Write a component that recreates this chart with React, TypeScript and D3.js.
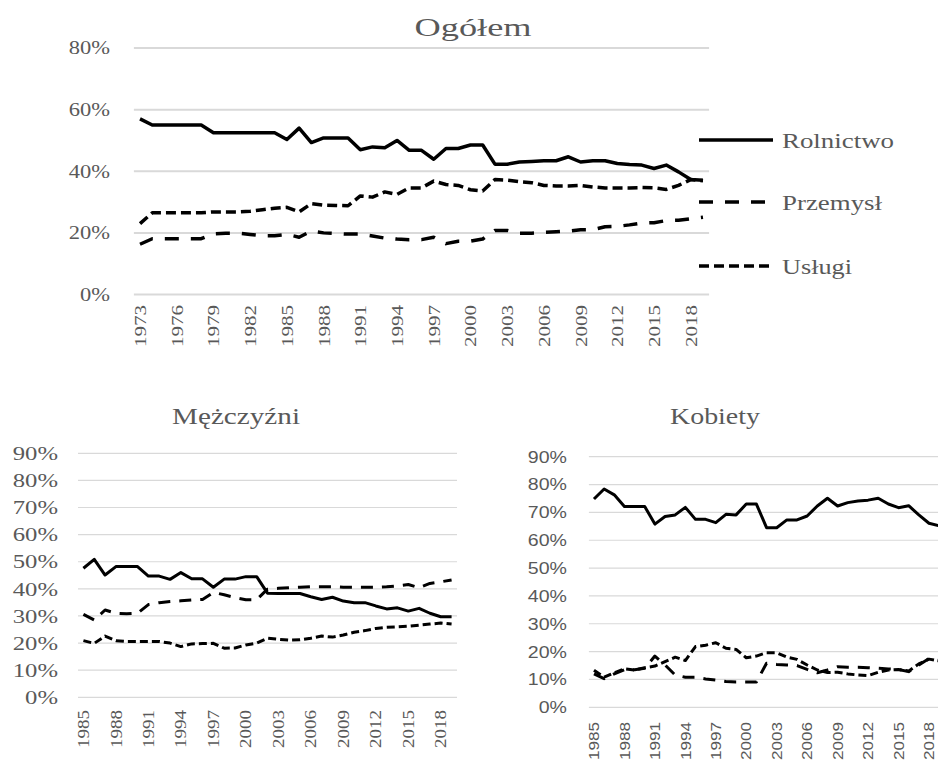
import React from 'react';
import * as d3 from 'd3';

// ---------- DATA ----------
const yearsTop = [1973,1974,1975,1976,1977,1978,1979,1980,1981,1982,1983,1984,1985,1986,1987,1988,1989,1990,1991,1992,1993,1994,1995,1996,1997,1998,1999,2000,2001,2002,2003,2004,2005,2006,2007,2008,2009,2010,2011,2012,2013,2014,2015,2016,2017,2018,2019];
const topRolnictwo = [57.0,55.0,55.0,55.0,55.0,55.0,52.5,52.5,52.5,52.5,52.5,52.5,50.3,54.0,49.3,50.8,50.8,50.8,47.0,47.9,47.6,50.0,46.8,46.8,43.9,47.4,47.4,48.5,48.5,42.3,42.3,43.0,43.2,43.4,43.4,44.7,43.0,43.4,43.4,42.5,42.2,42.0,40.9,42.0,39.8,37.3,37.1];
const topPrzemysl = [16.3,18.1,18.1,18.1,18.1,18.1,19.7,19.9,19.9,19.5,19.1,19.1,19.5,18.6,20.6,20.0,19.8,19.6,19.6,19.0,18.3,18.0,17.8,17.8,18.6,16.5,17.3,17.3,18.0,20.8,20.8,19.9,19.9,20.2,20.4,20.6,21.0,21.0,22.0,22.1,22.6,23.2,23.3,24.0,24.1,24.6,25.1];
const topUslugi = [23.0,26.5,26.5,26.5,26.5,26.5,26.8,26.8,26.8,27.0,27.5,28.0,28.3,26.8,29.5,29.0,28.9,28.8,32.0,31.6,33.3,32.5,34.6,34.6,36.8,35.7,35.4,34.0,33.6,37.3,37.1,36.6,36.3,35.4,35.2,35.2,35.4,34.9,34.6,34.6,34.6,34.7,34.6,34.1,35.4,37.3,36.9];

const yearsBottom = [1985,1986,1987,1988,1989,1990,1991,1992,1993,1994,1995,1996,1997,1998,1999,2000,2001,2002,2003,2004,2005,2006,2007,2008,2009,2010,2011,2012,2013,2014,2015,2016,2017,2018,2019];
const menRolnictwo = [47.6,50.9,45.1,48.2,48.2,48.2,44.7,44.7,43.5,46.0,43.7,43.7,40.6,43.6,43.6,44.5,44.5,38.4,38.3,38.3,38.3,37.1,36.1,36.9,35.5,34.9,34.9,33.7,32.6,33.0,31.8,32.8,31.0,29.7,29.7];
const menPrzemysl = [30.6,28.5,32.2,31.0,30.8,31.0,34.2,34.9,35.3,35.6,35.9,36.1,38.7,37.8,36.8,36.0,36.0,39.9,40.2,40.4,40.6,40.8,40.8,40.8,40.6,40.6,40.6,40.6,40.8,41.1,41.6,40.4,42.0,42.6,43.3];
const menUslugi = [20.9,19.9,22.6,20.9,20.6,20.6,20.6,20.6,20.0,18.7,19.7,19.8,19.9,18.1,18.2,19.3,20.0,21.8,21.4,21.1,21.2,21.8,22.6,22.2,23.0,24.0,24.6,25.4,25.8,26.0,26.2,26.6,27.0,27.4,27.0];
const womenRolnictwo = [74.8,78.4,76.3,72.1,72.1,72.1,65.8,68.5,69.1,71.8,67.5,67.5,66.3,69.3,69.1,73.0,73.0,64.5,64.5,67.3,67.3,68.7,72.3,75.1,72.3,73.5,74.1,74.4,75.1,73.0,71.7,72.4,69.1,66.1,65.2];
const womenPrzemysl = [12.0,10.3,12.0,13.5,13.5,14.0,18.4,15.2,11.6,10.8,10.8,10.2,9.8,9.3,9.1,9.1,9.1,15.8,15.4,15.2,15.0,13.6,12.4,13.4,14.6,14.4,14.4,14.2,14.0,13.8,13.6,12.8,15.2,17.5,16.8];
const womenUslugi = [13.3,10.8,12.4,13.8,13.4,14.2,14.8,16.4,18.0,16.8,21.8,22.3,23.2,21.2,20.8,17.8,18.4,19.6,19.6,18.0,17.2,15.2,13.4,12.5,12.6,12.0,11.6,11.4,12.6,13.4,13.6,13.0,15.6,17.3,16.6];

const topTicks = [0, 20, 40, 60, 80];
const bottomTicks = [0, 10, 20, 30, 40, 50, 60, 70, 80, 90];
const topYearLabels = [1973,1976,1979,1982,1985,1988,1991,1994,1997,2000,2003,2006,2009,2012,2015,2018];
const bottomYearLabels = [1985,1988,1991,1994,1997,2000,2003,2006,2009,2012,2015,2018];
const seriesNames = ['Rolnictwo', 'Przemysł', 'Usługi'];
const titles = ['Ogółem', 'Mężczyźni', 'Kobiety'];

const GRID = '#d9d9d9';
const TXT = '#595959';
const SERIF = '"Liberation Serif", "Times New Roman", serif';
const SANS = '"Liberation Sans", Arial, sans-serif';

type Panel = {
  years: number[];
  series: number[][];
  xRange: [number, number];
  yRange: [number, number];
  yMax: number;
  ticks: number[];
  yearLabels: number[];
  labelRight: number;
  labelFont: string;
  labelSize: number;
  labelK: number;
  xLabelTop: number;
  xLabelLen: number;
  xLabelSize: number;
  gridW: number;
  lineW: number;
  dashes: string[];
};

function pctWidth(v: number, fs: number, sans: boolean) {
  const digits = String(v).length;
  const dw = sans ? 0.556 : 0.5;
  const pw = sans ? 0.889 : 0.833;
  return (digits * dw + pw) * fs;
}

function PanelChart({ p }: { p: Panel }) {
  const x = d3.scaleBand<number>().domain(p.years).range(p.xRange).padding(0);
  const cx = (yr: number) => (x(yr) as number) + x.bandwidth() / 2;
  const y = d3.scaleLinear().domain([0, p.yMax]).range(p.yRange);
  const sans = p.labelFont === SANS;
  const line = d3.line<number>().x((_, i) => cx(p.years[i])).y((d) => y(d));
  return (
    <g>
      {p.ticks.map((t) => (
        <g key={t}>
          <line x1={p.xRange[0]} x2={p.xRange[1]} y1={y(t)} y2={y(t)} stroke={GRID} strokeWidth={p.gridW} />
          <text
            x={p.labelRight}
            y={y(t)}
            dy="0.35em"
            textAnchor="end"
            fontFamily={p.labelFont}
            fontSize={p.labelSize}
            fill={TXT}
            textLength={pctWidth(t, p.labelSize, sans) * p.labelK}
            lengthAdjust="spacingAndGlyphs"
          >{t}%</text>
        </g>
      ))}
      {p.yearLabels.map((yr) => (
        <text
          key={yr}
          transform={`translate(${cx(yr) + p.xLabelSize * 0.35},${p.xLabelTop}) rotate(-90)`}
          textAnchor="end"
          fontFamily={p.labelFont}
          fontSize={p.xLabelSize}
          fill={TXT}
          textLength={p.xLabelLen}
          lengthAdjust="spacingAndGlyphs"
        >{yr}</text>
      ))}
      {p.series.map((s, i) => (
        <path
          key={i}
          d={line(s) as string}
          fill="none"
          stroke="#000"
          strokeWidth={p.lineW}
          strokeDasharray={p.dashes[i]}
          strokeLinejoin="round"
        />
      ))}
    </g>
  );
}

export default function App() {
  const topPanel: Panel = {
    years: yearsTop,
    series: [topRolnictwo, topPrzemysl, topUslugi],
    xRange: [133.9, 709.1],
    yRange: [294.5, 48],
    yMax: 80,
    ticks: topTicks,
    yearLabels: topYearLabels,
    labelRight: 110,
    labelFont: SERIF,
    labelSize: 18,
    labelK: 1.25,
    xLabelTop: 305,
    xLabelLen: 42,
    xLabelSize: 17,
    gridW: 2,
    lineW: 3.5,
    dashes: ['none', '14,12', '10,5'],
  };
  const menPanel: Panel = {
    years: yearsBottom,
    series: [menRolnictwo, menPrzemysl, menUslugi],
    xRange: [78, 457],
    yRange: [697.3, 453.3],
    yMax: 90,
    ticks: bottomTicks,
    yearLabels: bottomYearLabels,
    labelRight: 58,
    labelFont: SERIF,
    labelSize: 19,
    labelK: 1.3,
    xLabelTop: 710,
    xLabelLen: 38,
    xLabelSize: 16,
    gridW: 1.2,
    lineW: 3,
    dashes: ['none', '12,9', '8,4'],
  };
  const womenPanel: Panel = {
    years: yearsBottom,
    series: [womenRolnictwo, womenPrzemysl, womenUslugi],
    xRange: [588.9, 944.2],
    yRange: [707.3, 456.7],
    yMax: 90,
    ticks: bottomTicks,
    yearLabels: bottomYearLabels,
    labelRight: 567,
    labelFont: SANS,
    labelSize: 17,
    labelK: 1.15,
    xLabelTop: 722,
    xLabelLen: 38,
    xLabelSize: 15,
    gridW: 1.2,
    lineW: 3,
    dashes: ['none', '12,9', '8,4'],
  };

  const legendY = [140, 202, 266];
  const legendDash = ['none', '14,12', '10,5'];
  const legendLen = [112, 100, 70];

  return (
    <svg width={938} height={761} style={{ position: 'absolute', left: 0, top: 0, background: '#fff' }}>
      <rect width={938} height={761} fill="#fff" />
      <text x={473} y={36} textAnchor="middle" fontFamily={SERIF} fontSize={25} fill={TXT}
        textLength={117} lengthAdjust="spacingAndGlyphs">{titles[0]}</text>
      <text x={236} y={424} textAnchor="middle" fontFamily={SERIF} fontSize={23} fill={TXT}
        textLength={128} lengthAdjust="spacingAndGlyphs">{titles[1]}</text>
      <text x={715} y={424} textAnchor="middle" fontFamily={SERIF} fontSize={23} fill={TXT}
        textLength={90} lengthAdjust="spacingAndGlyphs">{titles[2]}</text>
      <PanelChart p={topPanel} />
      <PanelChart p={menPanel} />
      <PanelChart p={womenPanel} />
      {seriesNames.map((n, i) => (
        <g key={n}>
          <line x1={699} x2={773} y1={legendY[i]} y2={legendY[i]} stroke="#000" strokeWidth={3.5}
            strokeDasharray={legendDash[i]} />
          <text x={782} y={legendY[i]} dy="0.35em" fontFamily={SERIF} fontSize={22} fill={TXT}
            textLength={legendLen[i]} lengthAdjust="spacingAndGlyphs">{n}</text>
        </g>
      ))}
    </svg>
  );
}
